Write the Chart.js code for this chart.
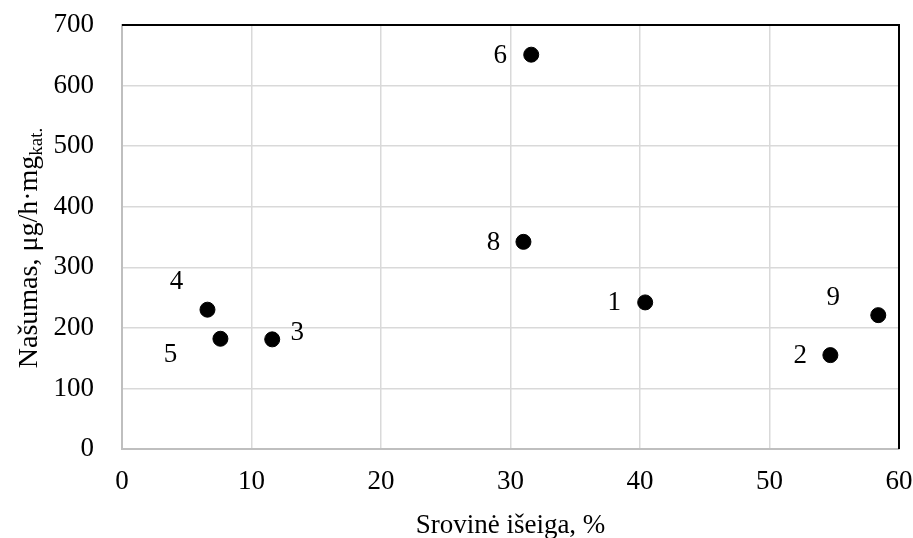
<!DOCTYPE html>
<html>
<head>
<meta charset="utf-8">
<script src="https://cdn.jsdelivr.net/npm/chart.js@4"></script>
<style>
  body { margin: 0; background: #fff; }
  #wrap { width: 913px; height: 538px; }
</style>
</head>
<body>
<div id="wrap"><canvas id="chart" width="913" height="538"></canvas></div>
<script>
// sample numbers and measured values
const pointLabels = ['1', '2', '3', '4', '5', '6', '8', '9'];
const currentYield = [40.4, 54.7, 11.6, 6.6, 7.6, 31.6, 31.0, 58.4];
const productivity = [242, 155, 181, 230, 182, 651, 342, 221];
const xTicks = [0, 10, 20, 30, 40, 50, 60];
const yTicks = [0, 100, 200, 300, 400, 500, 600, 700];

// where each number sits relative to its dot (px)
const labelOffsets = [[-31, 0], [-30, 1], [25, -6], [-31, -28], [-50, 16], [-31, 1], [-30, 1], [-45, -17]];

const serif = '"Liberation Serif", "Times New Roman", serif';
const fontSize = 27;

const points = currentYield.map((x, i) => ({ x: x, y: productivity[i] }));

//draws numbers next to the dots, the axis titles and the frame
const extras = {
  id: 'extras',
  afterDatasetsDraw(chart) {
    const ctx = chart.ctx;
    const meta = chart.getDatasetMeta(0);
    ctx.save();
    ctx.fillStyle = '#000';
    ctx.font = fontSize + 'px ' + serif;
    ctx.textAlign = 'center';
    ctx.textBaseline = 'middle';
    meta.data.forEach((pt, i) => {
      const off = labelOffsets[i];
      ctx.fillText(pointLabels[i], pt.x + off[0], pt.y + off[1]);
    });
    ctx.restore();
  },
  afterDraw(chart) {
    const ctx = chart.ctx;
    const a = chart.chartArea;
    ctx.save();
    // top + right frame
    ctx.strokeStyle = '#000';
    ctx.lineWidth = 2;
    ctx.beginPath();
    ctx.moveTo(a.left, a.top);
    ctx.lineTo(a.right, a.top);
    ctx.lineTo(a.right, a.bottom);
    ctx.stroke();

    ctx.fillStyle = '#000';
    // x title
    ctx.font = fontSize + 'px ' + serif;
    ctx.textAlign = 'center';
    ctx.textBaseline = 'alphabetic';
    ctx.fillText('Srovinė išeiga, %', (a.left + a.right) / 2, 533);

    // y title with subscript
    const main = 'Našumas, μg/h·mg';
    const sub = 'kat.';
    ctx.font = '28px ' + serif;
    const w1 = ctx.measureText(main).width;
    ctx.font = '19px ' + serif;
    const w2 = ctx.measureText(sub).width;
    ctx.translate(37, 248);
    ctx.rotate(-Math.PI / 2);
    ctx.textAlign = 'left';
    const start = -(w1 + w2) / 2;
    ctx.font = '28px ' + serif;
    ctx.fillText(main, start, 0);
    ctx.font = '19px ' + serif;
    ctx.fillText(sub, start + w1, 5);
    ctx.restore();
  }
};

new Chart(document.getElementById('chart'), {
  type: 'scatter',
  plugins: [extras],
  data: {
    datasets: [{
      data: points,
      backgroundColor: '#000',
      borderColor: '#000',
      pointRadius: 7.5,
      pointHoverRadius: 7.5
    }]
  },
  options: {
    responsive: false,
    animation: false,
    layout: { padding: { left: 0, top: 25, right: 14, bottom: 0 } },
    plugins: { legend: { display: false }, tooltip: { enabled: false } },
    scales: {
      x: {
        type: 'linear',
        min: 0,
        max: 60,
        afterBuildTicks: s => { s.ticks = xTicks.map(v => ({ value: v })); },
        afterFit: s => { s.height = 89; s.paddingLeft = 0; s.paddingRight = 0; },
        ticks: { color: '#000', font: { family: serif, size: fontSize }, padding: 17, maxRotation: 0 },
        grid: { color: '#d9d9d9', lineWidth: 1.5, drawTicks: false },
        border: { color: '#bfbfbf', width: 2 }
      },
      y: {
        min: 0,
        max: 700,
        afterBuildTicks: s => { s.ticks = yTicks.map(v => ({ value: v })); },
        afterFit: s => { s.width = 122; s.paddingTop = 0; s.paddingBottom = 0; },
        ticks: { color: '#000', font: { family: serif, size: fontSize }, padding: 28 },
        grid: { color: '#d9d9d9', lineWidth: 1.5, drawTicks: false },
        border: { color: '#bfbfbf', width: 2 }
      }
    }
  }
});
</script>
</body>
</html>
